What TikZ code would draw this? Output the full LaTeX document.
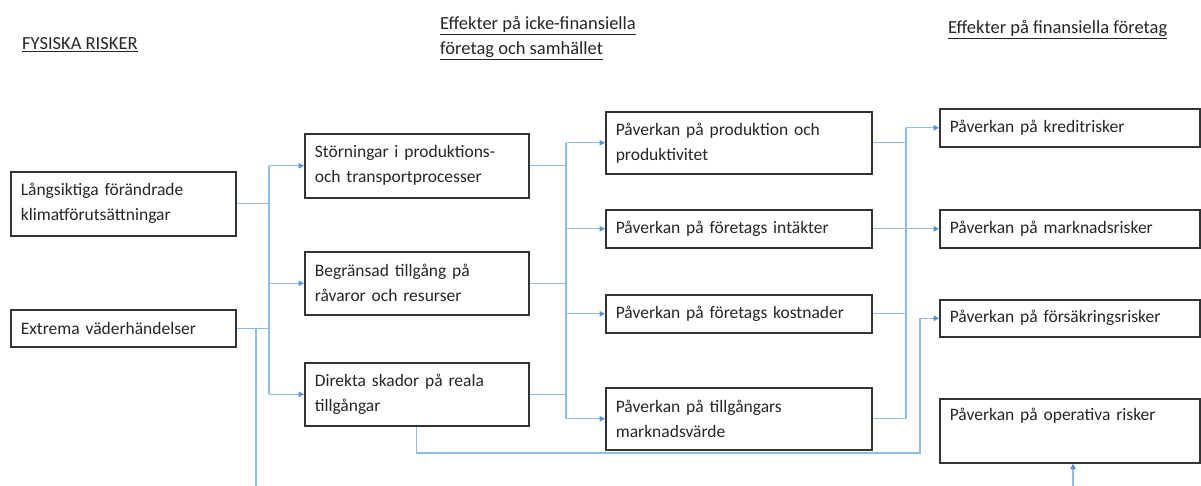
\documentclass[tikz,border=0pt]{standalone}
\usepackage{fontspec}
\setmainfont{Carlito}
\usetikzlibrary{arrows.meta,shadows}
\definecolor{txt}{HTML}{262626}
\definecolor{boxline}{HTML}{333333}
\definecolor{conn}{HTML}{8DBBEA}
\definecolor{tip}{HTML}{4F94DA}
\tikzset{
  box/.style={draw=boxline, line width=1.6pt, fill=white, anchor=north west,
    inner xsep=10pt, inner ysep=0pt, align=left, text=txt,
    font=\fontsize{17.5}{25}\selectfont,
    drop shadow={shadow xshift=1.2pt, shadow yshift=-1.2pt, fill=black!45, opacity=0.5}},
  head/.style={anchor=base west, inner sep=0pt, text=txt, font=\fontsize{18.5}{25}\selectfont},
  conn/.style={draw=conn, line width=1.2pt},
  arr/.style={conn, -{Triangle[length=5.5pt,width=5.5pt,fill=tip,color=tip]}},
}
\begin{document}
\begin{tikzpicture}[x=1pt,y=-1pt]
\useasboundingbox (0,0) rectangle (1201,486);
\fill[white] (0,0) rectangle (1201,486);
% headings
\node[head] (h1) at (22,50) {\underline{FYSISKA RISKER}};
\node[head] (h2a) at (440,30) {\underline{Effekter på icke-finansiella}};
\node[head] (h2b) at (440,55) {\underline{företag och samhället}};
\node[head] (h3) at (948,34) {\underline{Effekter på finansiella företag}};
% column 1
\node[box, minimum width=225pt, minimum height=64pt, text width=205pt] (L1) at (10,171) {Långsiktiga förändrade\\klimatförutsättningar};
\node[box, minimum width=225pt, minimum height=37pt, text width=205pt] (L2) at (10,309) {Extrema väderhändelser};
% column 2
\node[box, minimum width=224pt, minimum height=64pt, text width=204pt] (M1) at (304,133) {Störningar i produktions-\\och transportprocesser};
\node[box, minimum width=224pt, minimum height=63pt, text width=204pt] (M2) at (304,251) {Begränsad tillgång på\\råvaror och resurser};
\node[box, minimum width=224pt, minimum height=63pt, text width=204pt] (M3) at (304,362) {Direkta skador på reala\\tillgångar};
% column 3
\node[box, minimum width=266pt, minimum height=62pt, text width=246pt] (R1) at (605,111) {Påverkan på produktion och\\produktivitet};
\node[box, minimum width=266pt, minimum height=38pt, text width=246pt] (R2) at (605,209) {Påverkan på företags intäkter};
\node[box, minimum width=266pt, minimum height=38pt, text width=246pt] (R3) at (605,294) {Påverkan på företags kostnader};
\node[box, minimum width=266pt, minimum height=62pt, text width=246pt] (R4) at (605,387) {Påverkan på tillgångars\\marknadsvärde};
% column 4
\node[box, minimum width=260pt, minimum height=38pt, text width=240pt] (F1) at (939,108) {Påverkan på kreditrisker};
\node[box, minimum width=260pt, minimum height=38pt, text width=240pt] (F2) at (939,209) {Påverkan på marknadsrisker};
\node[box, minimum width=260pt, minimum height=37pt, text width=240pt] (F3) at (939,299) {Påverkan på försäkringsrisker};
\node[box, minimum width=260pt, minimum height=64pt, text width=240pt] (F4) at (939,398) {Påverkan på operativa risker\\\strut};
% junction coordinates
\coordinate (j1) at (269,0);
\coordinate (j2) at (566,0);
\coordinate (j3) at (906,0);
\coordinate (c1) at (920,453);
\coordinate (b1) at (256,486);
\coordinate (b2) at (1073,486);
% column 1 -> column 2
\draw[conn] (L1.east) -- (L1.east -| j1);
\draw[conn] (L2.east) -- (L2.east -| j1);
\draw[conn] (M1.west -| j1) -- (M3.west -| j1);
\draw[arr] (M1.west -| j1) -- (M1.west);
\draw[arr] (M2.west -| j1) -- (M2.west);
\draw[arr] (M3.west -| j1) -- (M3.west);
\draw[conn] (L2.east -| b1) -- (b1);
% column 2 -> column 3
\draw[conn] (M1.east) -- (M1.east -| j2);
\draw[conn] (M2.east) -- (M2.east -| j2);
\draw[conn] (M3.east) -- (M3.east -| j2);
\draw[conn] (R1.west -| j2) -- (R4.west -| j2);
\draw[arr] (R1.west -| j2) -- (R1.west);
\draw[arr] (R2.west -| j2) -- (R2.west);
\draw[arr] (R3.west -| j2) -- (R3.west);
\draw[arr] (R4.west -| j2) -- (R4.west);
% column 3 -> column 4
\draw[conn] (R1.east) -- (R1.east -| j3);
\draw[conn] (R3.east) -- (R3.east -| j3);
\draw[conn] (R4.east) -- (R4.east -| j3);
\draw[conn] (F1.west -| j3) -- (R4.east -| j3);
\draw[arr] (F1.west -| j3) -- (F1.west);
\draw[arr] (R2.east) -- (F2.west);
% direct damage -> insurance risk
\draw[arr] (M3.south) |- (c1) |- (F3.west);
% from below -> operational risk
\draw[arr] (b2) -- (b2 |- F4.south);
\end{tikzpicture}
\end{document}
